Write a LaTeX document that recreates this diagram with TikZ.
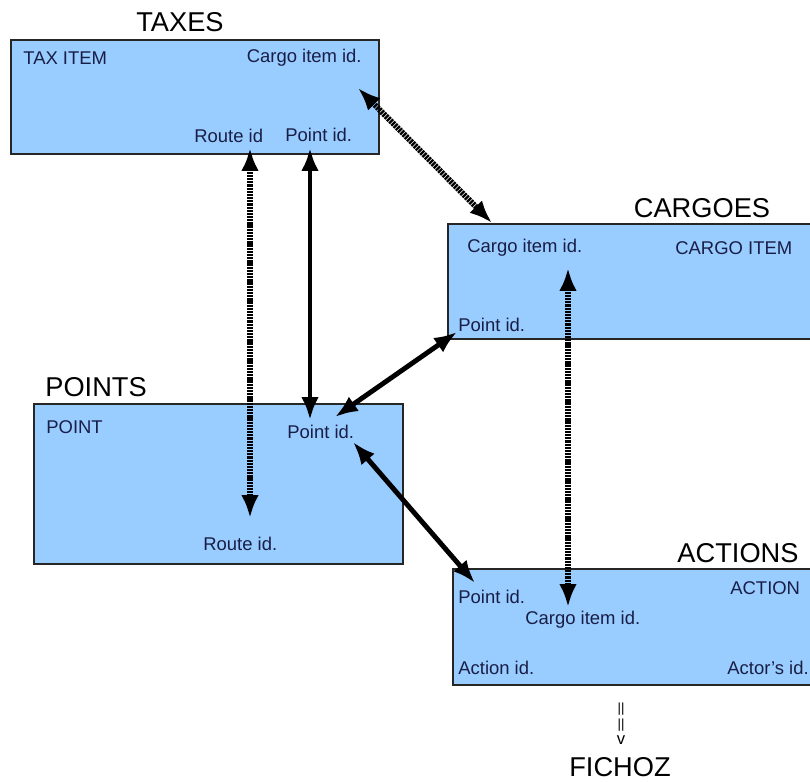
\documentclass[tikz,border=0pt]{standalone}
\usepackage{fontspec}
\setmainfont{Liberation Sans}
\usetikzlibrary{arrows.meta}
\definecolor{tblfill}{RGB}{153,204,255}
\definecolor{lbltext}{RGB}{25,30,70}
\begin{document}
\begin{tikzpicture}[x=0.02cm,y=-0.02cm]
  \tikzset{
    tbl/.style={draw=black!85,fill=tblfill,line width=0.8pt,inner sep=0pt,outer sep=0pt,anchor=north west},
    ttl/.style={font=\fontsize{15.5}{18}\selectfont,inner sep=0pt},
    fld/.style={font=\fontsize{10.5}{12}\selectfont,text=lbltext,inner sep=0pt,anchor=west},
    link/.style={line width=2.8pt,{Latex[length=13pt,width=10pt]}-{Latex[length=13pt,width=10pt]}},
    dlink/.style={link,line width=3.3pt,dash pattern=on 1.3pt off 0.5pt}}
  \useasboundingbox (0,0) rectangle (810,783);
      \node[tbl,minimum width=7.36cm,minimum height=2.28cm](taxes) at (11,40){};
        \node[tbl,minimum width=7.34cm,minimum height=2.30cm](cargoes) at (448,224){};
                \node[tbl,minimum width=7.38cm,minimum height=3.2cm](points) at (34,404){};
                \node[tbl,minimum width=7.24cm,minimum height=2.32cm](actions) at (453,569){};

  \node[ttl](taxtitle) at (180,22){TAXES};
  \node[fld](taxitem) at (23,58){TAX ITEM};
  \node[fld,anchor=east](taxcargo) at (362,58){Cargo item id.};
  \node[fld](taxroute) at (194,136){Route id};
  \node[fld](taxpoint) at (285,135){Point id.};

  \node[ttl](cargotitle) at (702,208){CARGOES};
  \node[fld](cargoitem) at (467,248){Cargo item id.};
  \node[fld](cargoname) at (675,248){CARGO ITEM};
  \node[fld](cargopoint) at (458,325){Point id.};

  \node[ttl,anchor=west](pointtitle) at (45,387){POINTS};
  \node[fld](pointname) at (46,427){POINT};
  \node[fld](pointid) at (287,432){Point id.};
  \node[fld](pointroute) at (203,544){Route id.};

  \node[ttl](acttitle) at (738,553){ACTIONS};
  \node[fld](actname) at (730,588){ACTION};
  \node[fld](actpoint) at (458,597){Point id.};
  \node[fld](actcargo) at (525,620){Cargo item id.};
  \node[fld](actid) at (458,668){Action id.};
  \node[fld](actactor) at (727,668){Actor's id.};

  \node[font=\fontsize{7.5}{9}\selectfont,align=center,inner sep=0pt](goes) at (621,724){||\\||\\{\fontsize{9.5}{9}\selectfont v}};
  \node[ttl](fichoz) at (620,767){FICHOZ};

  \coordinate (a1) at (358,88);   \coordinate (a2) at (492,223);
  \coordinate (b1) at (250,148);  \coordinate (b2) at (250,518);
  \coordinate (c1) at (310,148);  \coordinate (c2) at (310,420);
  \coordinate (d1) at (457,332);  \coordinate (d2) at (335,417);
  \coordinate (e1) at (353,442);  \coordinate (e2) at (475,583);
  \coordinate (f1) at (568,268);  \coordinate (f2) at (568,607);

          \draw[dlink](a1)--(a2);
          \draw[dlink](b1)--(b2);
          \draw[link](c1)--(c2);
          \draw[link](d1)--(d2);
  \draw[link](e1)--(e2);
  \draw[dlink](f1)--(f2);

\end{tikzpicture}
\end{document}
